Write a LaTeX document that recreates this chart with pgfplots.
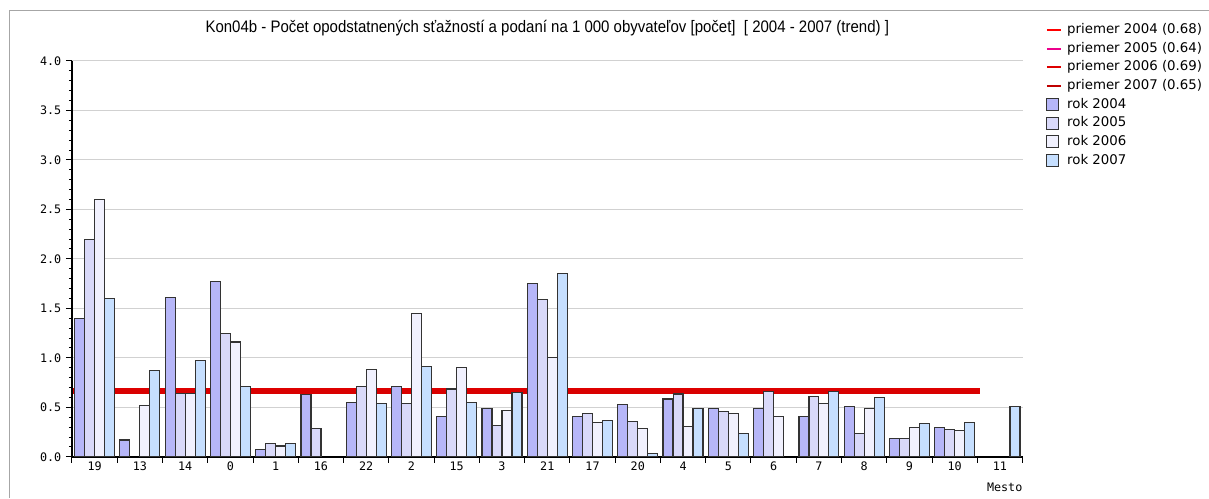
\documentclass[border=0pt]{standalone}
\usepackage{fontspec}
\setmainfont{Liberation Sans}
\newfontfamily\titlefont[FakeStretch=0.9]{Liberation Sans}
\newfontfamily\legfont{DejaVu Sans}
\newfontfamily\tickfont{DejaVu Sans Mono}
\usepackage{pgfplots}
\pgfplotsset{compat=1.18}
\definecolor{c04}{HTML}{B6B6F8}
\definecolor{c05}{HTML}{D9D9F9}
\definecolor{c06}{HTML}{F1F1FE}
\definecolor{c07}{HTML}{C6DFFF}
\definecolor{edge}{HTML}{333333}
\pgfplotsset{
  barleg/.style={legend image code/.code={\draw[##1] (0pt,-4.5pt) rectangle (9pt,4.5pt);}},
  avgleg/.style={legend image code/.code={\draw[line width=1.5pt,#1] (0pt,0pt) -- (10.5pt,0pt);}},
  geom/.style={at={(0,0)}, anchor=south west, scale only axis,
    width=713.25pt, height=297pt, xmin=-0.5, xmax=20.5, ymin=0, ymax=4},
}
\begin{document}
\begin{tikzpicture}
\fill[white] (-54pt,-30.75pt) rectangle (852.75pt,342.75pt);
\draw[black!35, line width=0.75pt] (-46.5pt,-30.75pt) -- (-46.5pt,334.5pt) -- (852.75pt,334.5pt);
% priemery -- samostatna os, aby boli pod stlpcami
\begin{axis}[geom, axis lines=none, ticks=none]
\addplot[sharp plot, line width=1.5pt, magenta] coordinates {(-0.5,0.64)(19.55,0.64)};
\addplot[sharp plot, line width=3pt, red] coordinates {(-0.5,0.68)(19.55,0.68)};
\addplot[sharp plot, line width=3pt, red!85!black] coordinates {(-0.5,0.65)(19.55,0.65)};
\addplot[sharp plot, line width=1.5pt, red!87!black] coordinates {(-0.5,0.69)(19.55,0.69)};
\end{axis}
\begin{axis}[
  geom,
  ybar, bar width=0.2207,
  axis lines*=left,
  axis line style={line width=1.5pt, -},
  tick align=outside,
  major tick length=4.5pt, minor tick length=2.25pt,
  tick style={black, line width=0.75pt},
  xtick={-0.5,0.5,...,20.5}, xticklabels={},
  extra x ticks={0,1,...,20},
  extra x tick labels={19,13,14,0,1,16,22,2,15,3,21,17,20,4,5,6,7,8,9,10,11},
  extra x tick style={grid=none, major tick length=0pt, tick style={draw=none}},
  ytick={0,0.5,...,4}, minor y tick num=4,
  ymajorgrids, grid style={black!18, line width=0.75pt},
  /pgf/number format/.cd, fixed, fixed zerofill, precision=1, assume math mode=true,
  /pgfplots/.cd,
  yticklabel style={font=\tickfont\fontsize{8.8}{10}\selectfont},
  xticklabel style={font=\tickfont\fontsize{8.8}{10}\selectfont},
  xlabel={Mesto},
  xlabel style={at={(rel axis cs:1,0)}, anchor=east, inner sep=0pt, yshift=-23.25pt,
    font=\tickfont\fontsize{8.8}{10}\selectfont},
  title={Kon04b - Počet opodstatnených sťažností a podaní na 1 000 obyvateľov [počet]\ \ [ 2004 - 2007 (trend) ]},
  title style={at={(0.5,1)}, anchor=base, yshift=15pt, inner sep=0pt,
    font=\titlefont\fontsize{12.5}{14}\selectfont},
  legend style={at={(1.0242,1.097)}, anchor=north west, draw=none, fill=none,
    inner sep=0pt, row sep=3.5pt,
    font=\legfont\fontsize{10}{12}\selectfont,
    nodes={inner sep=0pt, text height=8pt, text depth=2.5pt},
    /tikz/every odd column/.append style={column sep=4pt}},
  legend cell align=left,
]
\addlegendimage{avgleg=red}
\addlegendimage{avgleg=magenta}
\addlegendimage{avgleg={red!87!black}}
\addlegendimage{avgleg={red!75!black}}
% rok 2004
\addplot[fill=c04, draw=edge, line width=0.9pt, bar shift=-0.331, barleg] coordinates {
 (0,1.40)(1,0.17)(2,1.61)(3,1.77)(4,0.07)(5,0.63)(6,0.55)(7,0.71)(8,0.41)(9,0.485)
 (10,1.75)(11,0.41)(12,0.525)(13,0.585)(14,0.485)(15,0.485)(16,0.41)(17,0.51)(18,0.185)(19,0.30)
};
% rok 2005
\addplot[fill=c05, draw=edge, line width=0.9pt, bar shift=-0.110, barleg] coordinates {
 (0,2.20)(2,0.64)(3,1.25)(4,0.135)(5,0.29)(6,0.71)(7,0.54)(8,0.685)(9,0.32)
 (10,1.59)(11,0.435)(12,0.36)(13,0.635)(14,0.46)(15,0.66)(16,0.61)(17,0.235)(18,0.185)(19,0.275)
};
% rok 2006
\addplot[fill=c06, draw=edge, line width=0.9pt, bar shift=0.110, barleg] coordinates {
 (0,2.60)(1,0.52)(2,0.64)(3,1.16)(4,0.11)(6,0.88)(7,1.45)(8,0.90)(9,0.47)
 (10,1.00)(11,0.35)(12,0.285)(13,0.31)(14,0.435)(15,0.41)(16,0.54)(17,0.485)(18,0.30)(19,0.265)
};
% rok 2007
\addplot[fill=c07, draw=edge, line width=0.9pt, bar shift=0.331, barleg] coordinates {
 (0,1.60)(1,0.87)(2,0.97)(3,0.71)(4,0.135)(6,0.54)(7,0.91)(8,0.55)(9,0.65)
 (10,1.85)(11,0.37)(12,0.035)(13,0.485)(14,0.235)(16,0.66)(17,0.60)(18,0.335)(19,0.35)(20,0.51)
};
\legend{priemer 2004 (0.68),priemer 2005 (0.64),priemer 2006 (0.69),priemer 2007 (0.65),rok 2004,rok 2005,rok 2006,rok 2007}
\end{axis}
\end{tikzpicture}
\end{document}
